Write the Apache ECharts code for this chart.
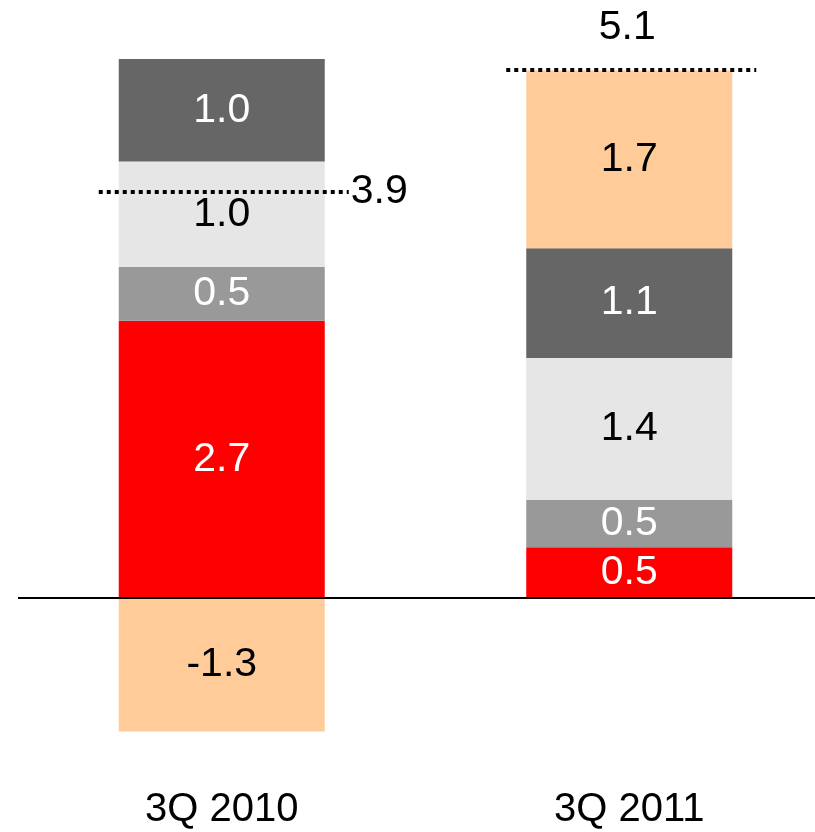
<!DOCTYPE html>
<html>
<head>
<meta charset="utf-8">
<script src="https://cdn.jsdelivr.net/npm/echarts@6/dist/echarts.min.js"></script>
<style>
  html, body { margin: 0; padding: 0; background: #fff; overflow: hidden; }
  /* a little wider than the window so the second band can run past the edge */
  #chart { width: 835px; height: 832px; }
</style>
</head>
<body>
<div id="chart"></div>
<script>
// data, bottom segment first
const categories = ['3Q 2010', '3Q 2011']
const redPart = [2.68, 0.49]
const midGrey = [0.52, 0.46]
const lightGrey = [1.02, 1.37]
const darkGrey = [0.99, 1.06]
const peach = [-1.29, 1.72]

// where each total label sits
const totalLabelSide = ['right', 'top']

const FONT = '"Liberation Sans", Arial, sans-serif'

let totals = categories.map((c, i) =>
  redPart[i] + midGrey[i] + lightGrey[i] + darkGrey[i] + peach[i])

function seg(name, data, color, textColor) {
  return {
    name: name,
    type: 'bar',
    stack: 'all',
    barWidth: 206,
    data: data,
    itemStyle: { color: color },
    label: {
      show: true,
      position: 'inside',
      formatter: p => p.value.toFixed(1),
      color: textColor,
      fontFamily: FONT,
      fontSize: 41
    },
    silent: true
  }
}

let myChart = echarts.init(document.getElementById('chart'))
myChart.setOption({
  animation: false,
  grid: { left: 18, width: 815, top: 29, height: 776 },
  xAxis: {
    type: 'category',
    data: categories,
    axisLine: { show: false },
    axisTick: { show: false },
    axisLabel: {
      color: '#000',
      fontFamily: FONT,
      fontSize: 40,
      verticalAlign: 'middle',
      margin: 5
    }
  },
  yAxis: {
    type: 'value',
    min: -2,
    max: 5.5,
    show: false,
    splitLine: { show: false }
  },
  series: [
    Object.assign(seg('red', redPart, '#ff0000', '#fff'), {
      markLine: {
        silent: true,
        symbol: 'none',
        label: { show: false },
        lineStyle: { color: '#000', width: 2, type: 'solid' },
        data: [{ yAxis: 0 }]
      }
    }),
    seg('mid', midGrey, '#999999', '#fff'),
    seg('light', lightGrey, '#e6e6e6', '#000'),
    seg('dark', darkGrey, '#666666', '#fff'),
    seg('peach', peach, '#ffcc99', '#000'),
    {
      type: 'custom',
      silent: true,
      z: 10,
      data: totals.map((t, i) => [i, t]),
      renderItem: function (params, api) {
        let p = api.coord([api.value(0), api.value(1)])
        let i = params.dataIndex
        let side = totalLabelSide[i]
        let y = Math.round(p[1])
        let left = p[0] - 123
        let right = p[0] + 127
        let txt = api.value(1).toFixed(1)
        return {
          type: 'group',
          children: [
            {
              type: 'line',
              shape: { x1: left, y1: y, x2: right, y2: y },
              style: { stroke: '#000', lineWidth: 4, lineDash: [4, 4] }
            },
            {
              type: 'text',
              x: side === 'right' ? right + 2 : p[0] - 2,
              y: side === 'right' ? y : y - 42,
              style: {
                text: txt,
                fill: '#000',
                font: '41px ' + FONT,
                align: side === 'right' ? 'left' : 'center',
                verticalAlign: 'middle'
              }
            }
          ]
        }
      }
    }
  ]
})
</script>
</body>
</html>
